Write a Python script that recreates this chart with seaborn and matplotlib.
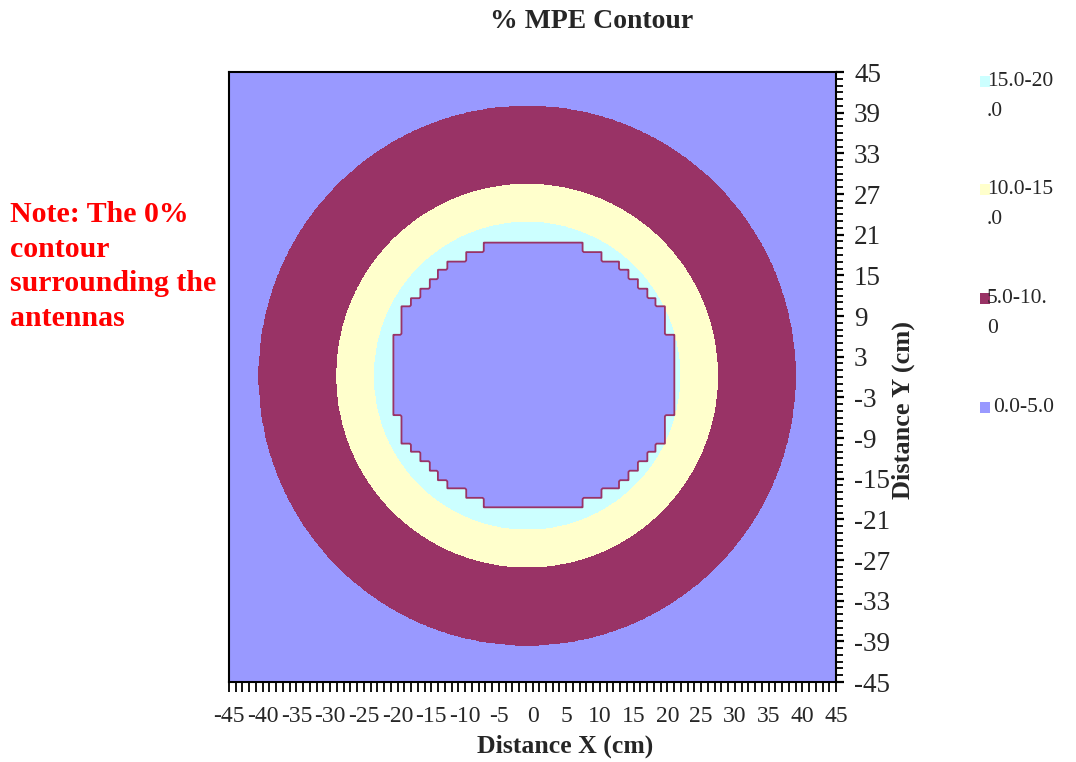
import numpy as np
import matplotlib
matplotlib.use("Agg")
import matplotlib.pyplot as plt
from matplotlib.patches import Rectangle
import seaborn as sns

# ---------------- data ----------------
band_levels = [0, 5, 10, 15, 20]
band_labels = ["0.0-5.0", "5.0-10.\n0", "10.0-15\n.0", "15.0-20\n.0"]
band_colors = ["#9999FF", "#993366", "#FFFFCC", "#CCFFFF"]

# radial MPE profile (distance from antenna centre in cm -> % MPE)
radius_cm = [21.0, 22.6, 28.2, 39.7, 64.0]
mpe_pct = [19.0, 15.0, 10.0, 5.0, 3.0]
ring_centre = (-0.8, 0.2)

# the 0 % zone surrounding the antennas (cm)
zone_centre = (0.15, 0.3)
zone_radius_x, zone_radius_y = 21.5, 20.0
zone_half_x, zone_half_y = 20.6, 19.5
zone_cell = 1.35                       # coarse grid of the computation (cm)

x_ticks = list(range(-45, 46, 5))
y_ticks = list(range(-45, 46, 6))

note_text = "Note: The 0%\ncontour\nsurrounding the\nantennas"
title_text = "% MPE Contour"
x_label = "Distance X (cm)"
y_label = "Distance Y (cm)"

# ---------------- field ----------------
gx = np.arange(-45, 45.001, 0.2)
gy = np.arange(-45, 45.001, 0.2)
X, Y = np.meshgrid(gx, gy)
R = np.hypot(X - ring_centre[0], Y - ring_centre[1])
Z = np.interp(R, radius_cm, mpe_pct)
cx = np.round((X - zone_centre[0]) / zone_cell) * zone_cell
cy = np.round((Y - zone_centre[1]) / zone_cell) * zone_cell
inside = (((cx / zone_radius_x) ** 2 + (cy / zone_radius_y) ** 2 <= 1.0)
          & (np.abs(cx) <= zone_half_x) & (np.abs(cy) <= zone_half_y))
Z[inside] = 0.0

# ---------------- figure ----------------
sns.set_style("ticks")
plt.rcParams["font.family"] = ["Liberation Serif", "DejaVu Serif"]
palette = sns.color_palette(band_colors)

fig = plt.figure(figsize=(10.76, 7.62), dpi=100)
ax = fig.add_axes([229 / 1076, 80 / 762, 607 / 1076, 610 / 762])

ax.contourf(X, Y, Z, levels=band_levels, colors=palette)
ax.contour(X, Y, Z, levels=[2.5], colors=[band_colors[1]], linewidths=1.3)

ax.set_xlim(-45, 45)
ax.set_ylim(-45, 45)
for s in ax.spines.values():
    s.set_color("black")
    s.set_linewidth(1.5)

ax.yaxis.tick_right()
ax.yaxis.set_label_position("right")
ax.set_xticks(x_ticks)
ax.set_xticks(np.arange(-45, 46, 1), minor=True)
ax.set_yticks(y_ticks)
ax.set_yticks(np.arange(-45, 46, 1), minor=True)
ax.set_xticklabels([str(v) for v in x_ticks], fontsize=17)
ax.set_yticklabels([str(v) for v in y_ticks], fontsize=19.5)
ax.tick_params(axis="x", which="both", direction="out", length=7.5, width=1.3,
               color="black", pad=10)
ax.tick_params(axis="y", which="major", direction="out", length=6, width=1.6,
               color="black", pad=7)
ax.tick_params(axis="y", which="minor", direction="out", length=5, width=1.3,
               color="black")

ax.set_xlabel(x_label, fontsize=18.5, fontweight="bold")
ax.xaxis.set_label_coords(0.553, -0.087)
ax.set_ylabel(y_label, fontsize=19, fontweight="bold", rotation=90)
ax.yaxis.set_label_coords(1.092, 0.446)

fig.text(592 / 1076, 1 - 22 / 762, title_text, ha="center", va="center",
         fontsize=20, fontweight="bold")

fig.text(10 / 1076, 1 - 201 / 762, note_text, ha="left", va="top",
         fontsize=21.5, fontweight="bold", color="red", linespacing=1.36)

# legend (manual, top to bottom)
leg_y = [80, 188, 297, 406]
for k, yy in enumerate(leg_y):
    band = 3 - k
    fig.add_artist(Rectangle((980 / 1076, 1 - (yy + 7) / 762), 10 / 1076, 11 / 762,
                             transform=fig.transFigure, facecolor=palette[band],
                             edgecolor="none"))
    fig.text(987 / 1076 if band > 0 else 993 / 1076, 1 - (yy - 8) / 762,
             band_labels[band], ha="left", va="top", fontsize=15.5,
             linespacing=1.8)

fig.savefig("out.png", dpi=100)
